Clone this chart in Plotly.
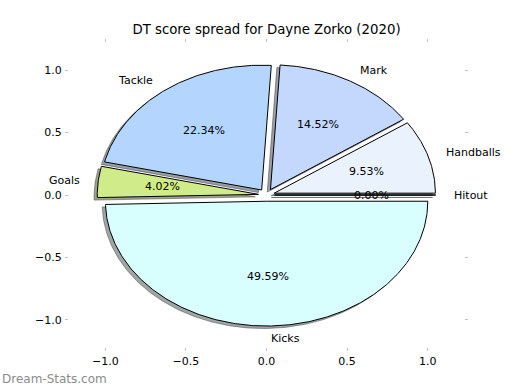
import numpy as np
import plotly.graph_objects as go

# ---- data ----
labels = ["Handballs", "Mark", "Tackle", "Goals", "Kicks", "Hitout"]
values = [9.53, 14.52, 22.34, 4.02, 49.59, 0.00]
colors = ["#eaf2fe", "#c4d8fe", "#b4d5fe", "#d0ec8a", "#d9fefe", "#e8e8e8"]
explode = [0.05, 0.05, 0.05, 0.05, 0.05, 0.05]
x_ticks = [-1.0, -0.5, 0.0, 0.5, 1.0]
y_ticks = [-1.0, -0.5, 0.0, 0.5, 1.0]
title_text = "DT score spread for Dayne Zorko (2020)"
watermark = "Dream-Stats.com"

FONT = "DejaVu Sans"
LABEL_DIST = 1.1
PCT_DIST = 0.6
SHADOW_OFF = -0.02


def hex_to_rgb(h):
    h = h.lstrip("#")
    return tuple(int(h[i:i + 2], 16) for i in (0, 2, 4))


fig = go.Figure()
total = float(sum(values))
wedges = []
theta = 0.0
for lab, v, col, e in zip(labels, values, colors, explode):
    t1 = theta
    t2 = theta + 360.0 * v / total
    theta = t2
    mid = np.deg2rad((t1 + t2) / 2.0)
    dx, dy = e * np.cos(mid), e * np.sin(mid)
    n = max(2, int(abs(t2 - t1) / 0.5) + 2)
    ang = np.deg2rad(np.linspace(t1, t2, n))
    xs = np.concatenate([[0.0], np.cos(ang), [0.0]]) + dx
    ys = np.concatenate([[0.0], np.sin(ang), [0.0]]) + dy
    wedges.append((lab, v, col, mid, dx, dy, xs, ys))

# shadows first
for lab, v, col, mid, dx, dy, xs, ys in wedges:
    r, g, b = hex_to_rgb(col)
    sc = "rgba(%d,%d,%d,0.5)" % (int(0.3 * r), int(0.3 * g), int(0.3 * b))
    fig.add_trace(go.Scatter(x=xs + SHADOW_OFF, y=ys + SHADOW_OFF, mode="lines",
                             fill="toself", fillcolor=sc,
                             line=dict(color=sc, width=1),
                             hoverinfo="skip", showlegend=False))

# wedges
for lab, v, col, mid, dx, dy, xs, ys in wedges:
    fig.add_trace(go.Scatter(x=xs, y=ys, mode="lines", fill="toself",
                             fillcolor=col, line=dict(color="black", width=1),
                             name=lab, showlegend=False))

annotations = []
for lab, v, col, mid, dx, dy, xs, ys in wedges:
    xt = dx + LABEL_DIST * np.cos(mid)
    yt = dy + LABEL_DIST * np.sin(mid)
    annotations.append(dict(x=xt, y=yt, xref="x", yref="y", text=lab,
                            showarrow=False, xanchor="left" if xt > 0 else "right",
                            yanchor="middle",
                            font=dict(family=FONT, size=11, color="black")))
    xp = dx + PCT_DIST * np.cos(mid)
    yp = dy + PCT_DIST * np.sin(mid)
    annotations.append(dict(x=xp, y=yp, xref="x", yref="y",
                            text="%.2f%%" % (100.0 * v / total),
                            showarrow=False, xanchor="center", yanchor="middle",
                            font=dict(family=FONT, size=11, color="black")))

annotations.append(dict(x=-65 / 403, y=(351 - 379) / 312, xref="paper", yref="paper",
                        text=watermark, showarrow=False, xanchor="left",
                        yanchor="middle",
                        font=dict(family=FONT, size=12, color="#8c8c8c")))

axis_common = dict(range=[-1.25, 1.25], showgrid=False, zeroline=False,
                   ticks="inside", ticklen=3, tickwidth=1, tickcolor="#c4c4c4",
                   showline=True, linecolor="rgba(0,0,0,0)", mirror="ticks",
                   tickformat=".1f",
                   tickfont=dict(family=FONT, size=11, color="black"))

fig.update_layout(
    width=520, height=390,
    margin=dict(l=65, r=52, t=39, b=39),
    paper_bgcolor="white", plot_bgcolor="white",
    title=dict(text=title_text, x=0.5, xref="paper", xanchor="center",
               y=1 - 29 / 390, yref="container", yanchor="middle",
               font=dict(family=FONT, size=13.3, color="black")),
    xaxis=dict(tickvals=x_ticks, **axis_common),
    yaxis=dict(tickvals=y_ticks, **axis_common),
    annotations=annotations,
    showlegend=False,
)

fig.write_html("out.html",
               config={"displayModeBar": False},
               post_script="document.body.style.margin='0px';"
                           "document.body.style.overflow='hidden';")
